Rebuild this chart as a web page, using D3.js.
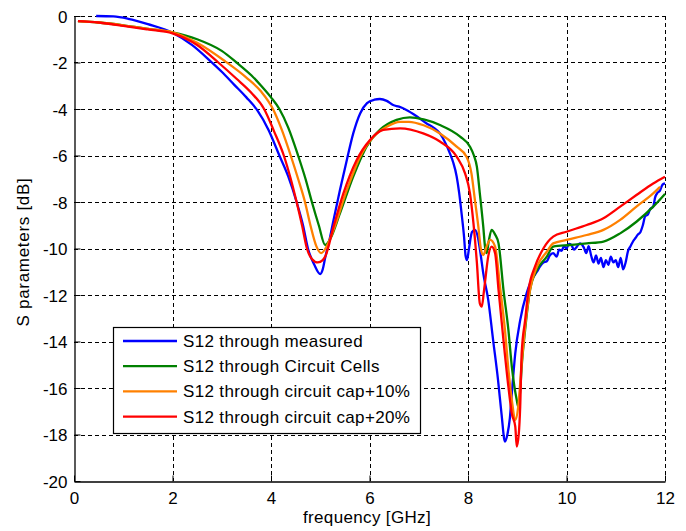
<!DOCTYPE html>
<html><head><meta charset="utf-8">
<script src="https://cdn.jsdelivr.net/npm/d3@7"></script>
<style>
html,body{margin:0;padding:0;background:#fff;}
svg{display:block;font-family:"Liberation Sans",Arial,sans-serif;}
</style></head>
<body><svg id="c" width="686" height="531"></svg>
<script>
// ---- data (frequency GHz, S12 dB) ----
const seriesNames = ["S12 through measured","S12 through Circuit Cells","S12 through circuit cap+10%","S12 through circuit cap+20%"];
const seriesColors = ["#0000ff","#008000","#ff8000","#ff0000"];
const xTicks = [0,2,4,6,8,10,12];
const yTicks = [0,-2,-4,-6,-8,-10,-12,-14,-16,-18,-20];

const measuredF = [0.45,0.8,1.1,1.5,2.0,2.4,2.8,3.0,3.25,3.5,3.72,3.95,4.17,4.35,4.52,4.65,4.75,4.88,5.0,5.05,5.1,5.2,5.27,5.4,5.54,5.67,5.81,5.95,6.1,6.21,6.35,6.48,6.6,6.75,6.95,7.16,7.3,7.43,7.55,7.63,7.7,7.77,7.82,7.87,7.92,7.95,7.98,8.02,8.08,8.14,8.2,8.26,8.31,8.41,8.51,8.61,8.68,8.75,8.8,8.85,8.89,8.96,9.06,9.19,9.26,9.33,9.4,9.46,9.53,9.6,9.66,9.73,9.8,9.85,9.9,9.95,10.0,10.05,10.1,10.15,10.2,10.27,10.35,10.4,10.45,10.5,10.55,10.6,10.65,10.7,10.75,10.8,10.85,10.9,10.95,11.0,11.05,11.1,11.15,11.2,11.25,11.3,11.35,11.4,11.45,11.5,11.55,11.6,11.65,11.7,11.76,11.8,11.85,11.9,11.95,12.0];
const measuredDB = [0.0,-0.02,-0.12,-0.35,-0.72,-1.25,-2.0,-2.4,-2.95,-3.5,-4.05,-4.9,-6.0,-6.9,-8.0,-9.0,-10.0,-10.7,-11.1,-10.9,-10.4,-9.5,-8.77,-7.48,-6.19,-5.05,-4.19,-3.75,-3.6,-3.57,-3.65,-3.83,-3.9,-4.04,-4.3,-4.62,-4.8,-5.05,-5.5,-5.9,-6.3,-6.9,-7.6,-8.5,-9.5,-10.3,-10.5,-10.0,-9.3,-9.2,-9.5,-10.3,-11.07,-12.2,-13.94,-15.66,-17.1,-18.3,-18.0,-17.3,-16.23,-14.5,-13.08,-11.93,-11.5,-11.21,-11.0,-10.78,-10.6,-10.55,-10.3,-10.2,-10.35,-10.05,-10.1,-9.9,-10.0,-9.8,-9.85,-10.05,-9.95,-9.78,-9.95,-10.2,-9.9,-10.3,-10.6,-10.3,-10.65,-10.4,-10.8,-10.5,-10.7,-10.35,-10.6,-10.5,-10.8,-10.4,-10.9,-10.6,-10.1,-9.9,-9.7,-9.55,-9.4,-9.3,-9.0,-8.6,-8.55,-8.3,-8.2,-7.8,-7.6,-7.5,-7.25,-7.2];

const cellsF = [0.08,0.5,1.0,1.5,2.0,2.5,3.0,3.3,3.6,3.8,4.0,4.17,4.35,4.55,4.7,4.83,4.97,5.1,5.2,5.4,5.67,5.94,6.21,6.55,6.82,7.1,7.43,7.84,8.04,8.12,8.18,8.24,8.31,8.35,8.38,8.42,8.48,8.55,8.62,8.72,8.82,8.89,8.99,9.02,9.06,9.09,9.16,9.26,9.4,9.6,9.73,10.07,10.41,10.75,11.09,11.42,11.76,12.0];
const cellsDB = [-0.22,-0.28,-0.4,-0.55,-0.7,-1.0,-1.5,-2.0,-2.55,-3.0,-3.5,-4.0,-4.8,-6.0,-7.0,-8.0,-9.0,-9.85,-9.6,-8.49,-6.91,-5.62,-4.9,-4.47,-4.36,-4.45,-4.69,-5.19,-5.62,-6.0,-6.48,-7.63,-9.06,-10.0,-10.2,-9.7,-9.2,-9.4,-9.78,-11.78,-13.5,-15.08,-16.52,-16.8,-16.1,-15.08,-13.5,-11.78,-10.92,-10.35,-9.92,-9.85,-9.78,-9.7,-9.35,-8.85,-8.2,-7.65];

const cap10F = [0.08,0.5,1.0,1.5,2.0,2.5,3.07,3.5,3.8,4.04,4.22,4.4,4.55,4.69,4.8,4.92,5.02,5.12,5.27,5.54,5.81,6.08,6.35,6.62,6.8,7.1,7.43,7.77,7.97,8.07,8.14,8.21,8.26,8.31,8.38,8.45,8.55,8.65,8.75,8.82,8.89,8.96,9.02,9.09,9.16,9.26,9.4,9.6,9.73,10.0,10.41,10.75,11.09,11.42,11.76,11.9];
const cap10DB = [-0.22,-0.28,-0.4,-0.55,-0.7,-1.15,-1.95,-2.65,-3.25,-4.0,-4.9,-6.0,-7.0,-8.0,-9.0,-9.9,-10.2,-9.95,-9.2,-7.48,-6.05,-5.19,-4.76,-4.55,-4.55,-4.7,-5.05,-5.62,-6.05,-6.77,-7.91,-9.06,-10.0,-10.28,-9.9,-9.63,-9.92,-11.64,-13.5,-15.2,-16.52,-17.38,-16.8,-14.94,-13.36,-11.78,-10.78,-10.14,-9.78,-9.63,-9.42,-9.2,-8.77,-8.2,-7.63,-7.35];

const cap20F = [0.08,0.5,1.0,1.5,2.0,2.5,2.93,3.3,3.6,3.86,4.06,4.26,4.4,4.52,4.63,4.73,4.83,4.95,5.05,5.1,5.27,5.47,5.74,6.01,6.28,6.62,7.09,7.43,7.77,7.94,8.04,8.11,8.18,8.24,8.28,8.32,8.35,8.41,8.48,8.55,8.62,8.72,8.82,8.89,8.96,8.99,9.03,9.06,9.09,9.16,9.23,9.36,9.53,9.73,10.0,10.41,10.75,11.09,11.42,11.76,12.0];
const cap20DB = [-0.22,-0.28,-0.42,-0.58,-0.75,-1.25,-2.0,-2.7,-3.3,-4.0,-4.95,-6.0,-7.0,-8.0,-9.0,-10.0,-10.45,-10.6,-10.5,-10.35,-9.06,-7.63,-6.19,-5.33,-4.9,-4.83,-5.05,-5.4,-6.05,-6.77,-7.63,-8.9,-10.6,-12.36,-12.5,-11.9,-11.36,-10.35,-9.92,-10.2,-11.78,-13.94,-15.94,-17.1,-17.66,-18.52,-18.0,-16.8,-14.5,-13.08,-11.78,-10.78,-10.0,-9.49,-9.28,-8.99,-8.7,-8.2,-7.7,-7.2,-6.91];

const seriesF = [measuredF, cellsF, cap10F, cap20F];
const seriesDB = [measuredDB, cellsDB, cap10DB, cap20DB];

// ---- layout ----
const L = 74, R = 665, T = 16, B = 481;
const svg = d3.select("#c");
const x = d3.scaleLinear().domain([0,12]).range([L,R]);
const y = d3.scaleLinear().domain([-20,0]).range([B,T]);

// grid
const grid = svg.append("g").attr("stroke","#000").attr("stroke-width",1).attr("stroke-dasharray","4,3");
grid.selectAll("line.v").data(xTicks.filter(d=>d>0)).enter().append("line")
  .attr("x1",d=>Math.round(x(d))+0.5).attr("x2",d=>Math.round(x(d))+0.5).attr("y1",T).attr("y2",B);
grid.selectAll("line.h").data(yTicks.filter(d=>d>-20)).enter().append("line")
  .attr("y1",d=>Math.round(y(d))+0.5).attr("y2",d=>Math.round(y(d))+0.5).attr("x1",L).attr("x2",R);

// curves
svg.append("clipPath").attr("id","pc").append("rect").attr("x",L).attr("y",T-2).attr("width",R-L+2).attr("height",B-T+2);
const line = d3.line().x(d=>x(d[0])).y(d=>y(d[1])).curve(d3.curveMonotoneX);
seriesF.forEach((fs,i)=>{
  const pts = fs.map((f,j)=>[f, seriesDB[i][j]]);
  svg.append("path").attr("d",line(pts)).attr("fill","none")
    .attr("stroke",seriesColors[i]).attr("stroke-width",2.3).attr("stroke-linejoin","round")
    .attr("clip-path","url(#pc)");
});

// axes
const xAxis = d3.axisBottom(x).tickValues(xTicks).tickSizeInner(-6).tickSizeOuter(0).tickPadding(10).tickFormat(d3.format("d"));
const yAxis = d3.axisLeft(y).tickValues(yTicks).tickSizeInner(-6).tickSizeOuter(0).tickPadding(7).tickFormat(d=>d===0?"0":String(d).replace("−","-"));
const gx = svg.append("g").attr("transform",`translate(0,${B+0.5})`).call(xAxis);
const gy = svg.append("g").attr("transform",`translate(${L+0.5},0)`).call(yAxis);
[gx,gy].forEach(g=>{
  g.select(".domain").attr("stroke","#000").attr("stroke-width",1.3);
  g.selectAll(".tick line").attr("stroke","#000");
  g.selectAll(".tick text").attr("fill","#000").attr("font-size",17).attr("font-family","Liberation Sans, Arial, sans-serif");
});
gx.selectAll(".tick text").attr("dy","0.71em");
gy.selectAll(".tick text").attr("dy","0.36em");

// axis labels
svg.append("text").attr("x",367).attr("y",523).attr("text-anchor","middle")
  .attr("font-size",17).attr("letter-spacing",0.35).attr("fill","#000").text("frequency [GHz]");
svg.append("text").attr("transform","translate(29,252) rotate(-90)").attr("text-anchor","middle")
  .attr("font-size",17).attr("letter-spacing",0.7).attr("fill","#000").text("S parameters [dB]");

// legend
const lg = svg.append("g");
lg.append("rect").attr("x",113.5).attr("y",327.5).attr("width",307).attr("height",106)
  .attr("fill","#fff").attr("stroke","#000").attr("stroke-width",1.2);
seriesNames.forEach((n,i)=>{
  const cy = 341 + i*25.2;
  lg.append("line").attr("x1",123).attr("x2",177).attr("y1",cy).attr("y2",cy)
    .attr("stroke",seriesColors[i]).attr("stroke-width",2.3);
  lg.append("text").attr("x",183).attr("y",cy+6).attr("font-size",17).attr("letter-spacing",0.35)
    .attr("fill","#000").text(n);
});
</script></body></html>
